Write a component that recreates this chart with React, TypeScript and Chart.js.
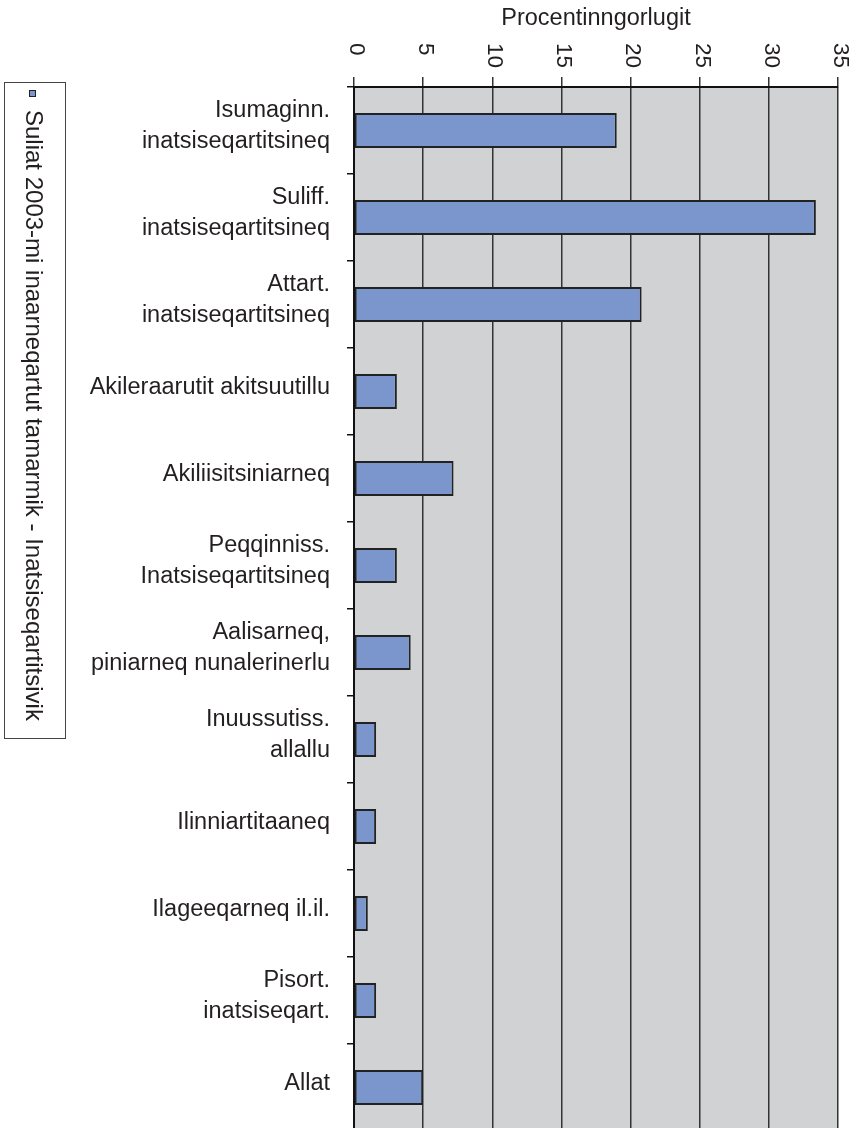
import React, { useEffect, useRef } from "react";
import { Chart, registerables } from "chart.js";

Chart.register(...registerables);

const categories: (string | string[])[] = [
  ["Isumaginn.", "inatsiseqartitsineq"],
  ["Suliff.", "inatsiseqartitsineq"],
  ["Attart.", "inatsiseqartitsineq"],
  "Akileraarutit akitsuutillu",
  "Akiliisitsiniarneq",
  ["Peqqinniss.", "Inatsiseqartitsineq"],
  ["Aalisarneq,", "piniarneq nunalerinerlu"],
  ["Inuussutiss.", "allallu"],
  "Ilinniartitaaneq",
  "Ilageeqarneq il.il.",
  ["Pisort.", "inatsiseqart."],
  "Allat",
];
const values = [19.0, 33.4, 20.8, 3.1, 7.2, 3.1, 4.1, 1.6, 1.6, 1.0, 1.6, 5.0];
const xTicks = [0, 5, 10, 15, 20, 25, 30, 35];
const seriesLabel = "Suliat 2003-mi inaarneqartut tamarmik - Inatsiseqartitsivik";
const axisTitle = "Procentinngorlugit";

const FONT = '"Liberation Sans", Arial, Helvetica, sans-serif';
const TEXT = "#231f20";
const BAR = "#7a96cc";

const decorPlugin = {
  id: "decor",
  beforeDraw(chart: any) {
    const { ctx, chartArea } = chart;
    ctx.save();
    ctx.fillStyle = "#d1d2d4";
    ctx.fillRect(chartArea.left, chartArea.top, chartArea.right - chartArea.left, chartArea.bottom - chartArea.top);
    ctx.restore();
  },
  afterDraw(chart: any) {
    const { ctx, chartArea } = chart;
    const xs = chart.scales.x;
    ctx.save();
    ctx.fillStyle = TEXT;
    // axis title
    ctx.font = `23.5px ${FONT}`;
    ctx.textAlign = "center";
    ctx.textBaseline = "alphabetic";
    ctx.fillText(axisTitle, (chartArea.left + chartArea.right) / 2, 25);
    // rotated tick labels
    ctx.font = `22.5px ${FONT}`;
    xTicks.forEach((v) => {
      const px = xs.getPixelForValue(v);
      ctx.save();
      ctx.translate(px + 2, 43);
      ctx.rotate(Math.PI / 2);
      ctx.textAlign = "left";
      ctx.textBaseline = "middle";
      ctx.fillText(String(v), 0, 0);
      ctx.restore();
    });
    // legend box
    ctx.fillStyle = "#ffffff";
    ctx.fillRect(4.5, 82.5, 61, 656);
    ctx.strokeStyle = "#444";
    ctx.lineWidth = 1;
    ctx.strokeRect(4.5, 82.5, 61, 656);
    ctx.fillStyle = BAR;
    ctx.fillRect(29, 90, 7, 7);
    ctx.strokeStyle = "#222";
    ctx.strokeRect(29.5, 90.5, 6, 6);
    ctx.fillStyle = TEXT;
    ctx.font = `24px ${FONT}`;
    ctx.save();
    ctx.translate(33, 110);
    ctx.rotate(Math.PI / 2);
    ctx.textAlign = "left";
    ctx.textBaseline = "middle";
    ctx.fillText(seriesLabel, 0, 0);
    ctx.restore();
    ctx.restore();
  },
};

export default function App() {
  const ref = useRef<HTMLCanvasElement | null>(null);
  useEffect(() => {
    if (!ref.current) return;
    const chart = new Chart(ref.current, {
      type: "bar",
      data: {
        labels: categories as any,
        datasets: [
          {
            label: seriesLabel,
            data: values,
            backgroundColor: BAR,
            borderColor: "#222",
            borderWidth: 2,
            borderSkipped: false,
            barPercentage: 0.4,
            categoryPercentage: 1,
          },
        ],
      },
      options: {
        indexAxis: "y",
        responsive: false,
        animation: false,
        devicePixelRatio: 1,
        layout: { padding: { left: 0, right: 22, top: 0, bottom: 0 } },
        plugins: { legend: { display: false }, tooltip: { enabled: false } },
        scales: {
          x: {
            position: "top",
            min: 0,
            max: 35,
            ticks: { stepSize: 5, display: false },
            grid: { color: "#333", lineWidth: 1.5, tickLength: 10, drawTicks: true },
            border: { display: true, color: "#111", width: 2 },
            afterFit: (s: any) => {
              s.height = 87;
              s.paddingLeft = 0;
              s.paddingRight = 0;
            },
          },
          y: {
            position: "left",
            ticks: {
              color: TEXT,
              padding: 17,
              labelOffset: -4,
              font: { family: FONT, size: 23.5, lineHeight: 1.32 },
              autoSkip: false,
            },
            grid: { drawOnChartArea: false, tickLength: 7, color: "#111", lineWidth: 1.5, offset: true },
            border: { display: true, color: "#111", width: 2 },
            afterFit: (s: any) => {
              s.width = 354;
              s.paddingTop = 0;
              s.paddingBottom = 0;
            },
          },
        },
      } as any,
      plugins: [decorPlugin],
    });
    return () => chart.destroy();
  }, []);
  return (
    <div style={{ position: "absolute", left: 0, top: 0, width: 860, height: 1128, overflow: "hidden", background: "#fff" }}>
      <canvas ref={ref} width={860} height={1131} style={{ display: "block" }} />
    </div>
  );
}
